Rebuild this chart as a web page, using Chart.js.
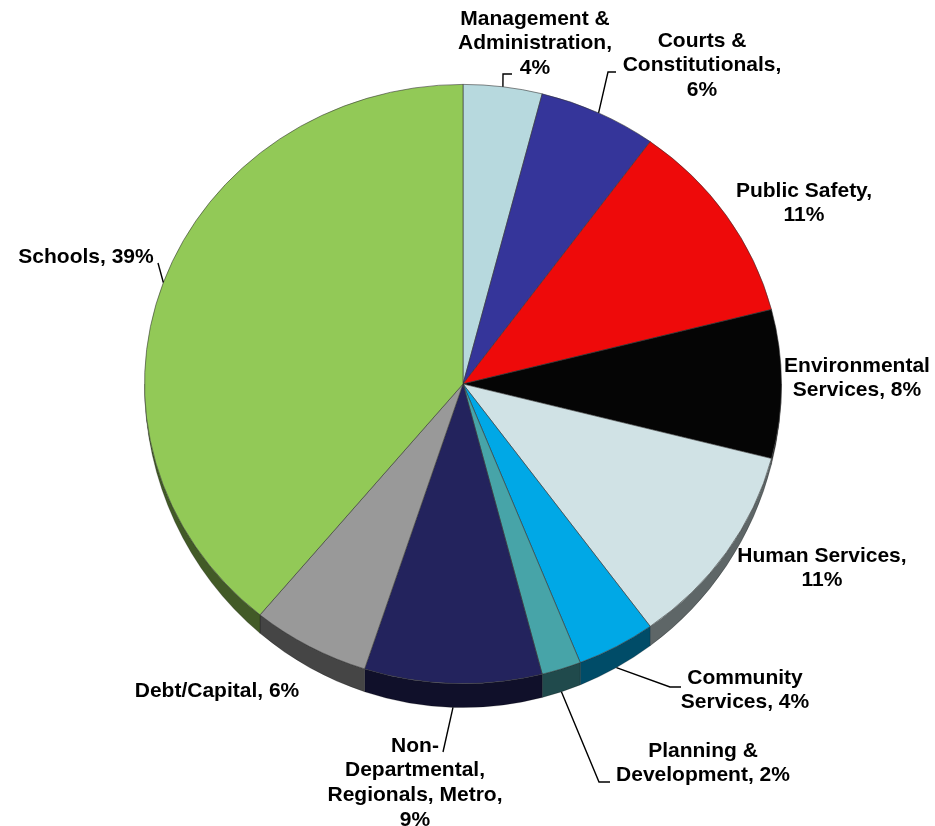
<!DOCTYPE html>
<html>
<head>
<meta charset="utf-8">
<script src="https://cdn.jsdelivr.net/npm/chart.js@4/dist/chart.umd.min.js"></script>
<style>
html, body { margin: 0; padding: 0; background: #fff; }
#wrap { width: 935px; height: 826px; }
</style>
</head>
<body>
<div id="wrap"><canvas id="budgetPie" width="935" height="826"></canvas></div>
<script>
// budget shares, clockwise from 12 o'clock
var categories = ['Management & Administration', 'Courts & Constitutionals', 'Public Safety',
  'Environmental Services', 'Human Services', 'Community Services', 'Planning & Development',
  'Non-Departmental, Regionals, Metro', 'Debt/Capital', 'Schools'];
var shares = [4, 6, 11, 8, 11, 4, 2, 9, 6, 39];
var sliceColors = ['#b7d9de', '#35359a', '#ee0a0a', '#050505', '#d0e2e5', '#00a8e6',
  '#47a4a8', '#23235d', '#999999', '#92c957'];
// label text as wrapped in the picture, {v} = value
var labelLines = [
  ['Management &', 'Administration,', '{v}'],
  ['Courts &', 'Constitutionals,', '{v}'],
  ['Public Safety,', '{v}'],
  ['Environmental', 'Services, {v}'],
  ['Human Services,', '{v}'],
  ['Community', 'Services, {v}'],
  ['Planning &', 'Development, {v}'],
  ['Non-', 'Departmental,', 'Regionals, Metro,', '{v}'],
  ['Debt/Capital, {v}'],
  ['Schools, {v}']
];

// where each label sits (center of first line) and its leader line bends
var labelAt = [[535, 19], [702, 41], [804, 191], [857, 366], [822, 556],
  [745, 678], [703, 751], [415, 746], [217, 691], [86, 257]];
var leaders = [
  [[503, 74], [512, 74]],
  [[608, 72], [616, 72]],
  null, null, null,
  [[670, 687], [681, 687]],
  [[599, 782], [610, 782]],
  [[443, 752]],
  null,
  [[158, 263]]
];

var stretchX = 1.063;  // pie is a slightly flattened ellipse
var depth = 24;        // 3d rim thickness at the bottom

function darker(hex, f) {
  var n = parseInt(hex.slice(1), 16);
  var r = Math.round(((n >> 16) & 255) * f), g = Math.round(((n >> 8) & 255) * f), b = Math.round((n & 255) * f);
  return 'rgb(' + r + ',' + g + ',' + b + ')';
}

var pie3d = {
  id: 'pie3d',
  beforeDatasetsDraw: function(chart) {
    var ctx = chart.ctx;
    var arcs = chart.getDatasetMeta(0).data;
    var cx = arcs[0].x, cy = arcs[0].y;
    ctx.save();
    ctx.translate(cx, cy);
    ctx.scale(stretchX, 1);
    ctx.translate(-cx, -cy);
    // side wall of the lower half, thinning out toward the sides
    arcs.forEach(function(el, i) {
      var a1 = Math.max(el.startAngle, 0), a2 = Math.min(el.endAngle, Math.PI);
      if (a1 >= a2) return;
      var r = el.outerRadius;
      ctx.beginPath();
      ctx.arc(el.x, el.y, r, a1, a2);
      ctx.ellipse(el.x, el.y, r, r + depth, 0, a2, a1, true);
      ctx.closePath();
      ctx.fillStyle = i == 3 ? '#3a3a3a' : darker(sliceColors[i], 0.45);
      ctx.fill();
      ctx.lineWidth = 0.6;
      ctx.strokeStyle = 'rgba(0,0,0,0.35)';
      ctx.stroke();
    });
  },
  afterDatasetsDraw: function(chart) {
    var ctx = chart.ctx;
    ctx.restore();
    var arcs = chart.getDatasetMeta(0).data;
    ctx.save();
    ctx.font = 'bold 21px "Liberation Sans", Arial, sans-serif';
    ctx.fillStyle = '#000';
    ctx.textAlign = 'center';
    ctx.textBaseline = 'middle';
    labelLines.forEach(function(lines, i) {
      lines.forEach(function(t, k) {
        ctx.fillText(t.replace('{v}', shares[i] + '%'), labelAt[i][0], labelAt[i][1] + k * 24.7);
      });
      if (!leaders[i]) return;
      var el = arcs[i];
      var a = (el.startAngle + el.endAngle) / 2;
      var s = Math.sin(a);
      var sx = el.x + stretchX * el.outerRadius * Math.cos(a);
      var sy = el.y + (el.outerRadius + (s > 0 ? depth : 0)) * s;
      ctx.beginPath();
      ctx.moveTo(sx, sy);
      leaders[i].forEach(function(p) { ctx.lineTo(p[0], p[1]); });
      ctx.lineWidth = 1.4;
      ctx.strokeStyle = '#000';
      ctx.stroke();
    });
    ctx.restore();
  }
};

var ctx = document.getElementById('budgetPie').getContext('2d');
var budgetChart = new Chart(ctx, {
  type: 'pie',
  data: {
    labels: categories,
    datasets: [{
      data: shares,
      backgroundColor: sliceColors,
      borderColor: 'rgba(50,50,50,0.7)',
      borderWidth: 0.8,
      clip: false
    }]
  },
  options: {
    responsive: false,
    animation: false,
    layout: { padding: { top: 83, bottom: 141, left: 163, right: 172 } },
    plugins: { legend: { display: false }, tooltip: { enabled: false } }
  },
  plugins: [pie3d]
});
</script>
</body>
</html>
